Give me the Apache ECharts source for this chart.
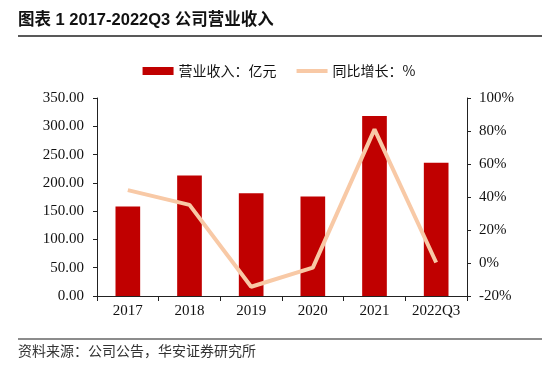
<!DOCTYPE html>
<html><head><meta charset="utf-8">
<script src="https://cdn.jsdelivr.net/npm/echarts@6/dist/echarts.min.js"></script>
<style>html,body{margin:0;padding:0;background:#fff}#c{width:558px;height:371px}</style>
</head><body><div id="c"></div>
<script>
const categories = ['2017','2018','2019','2020','2021','2022Q3'];
const revenue = [158.0, 213.0, 181.5, 176.0, 318.0, 235.5];
const growth = [44.2, 35.2, -14.4, -2.8, 81.0, 0.3];
const leftTicks = [0, 350, 50];
const rightTicks = [-20, 100, 20];
const titleText = '图表 1 2017-2022Q3 公司营业收入';
const sourceText = '资料来源：公司公告，华安证券研究所';
const revName = '营业收入：亿元';
const growName = '同比增长：%';

const chart = echarts.init(document.getElementById('c'), null, {renderer:'canvas'});
const serif = '"Liberation Serif", "Times New Roman", serif';
const cjk = '"Noto Sans CJK SC", sans-serif';
chart.setOption({
  animation:false,
  backgroundColor:'#fff',
  graphic:[
    {type:'text', left:18, top:12, style:{text:titleText, font:'bold 16.5px "Liberation Sans", "Noto Sans CJK SC", sans-serif', fill:'#111'}},
    {type:'line', shape:{x1:18,y1:36,x2:542,y2:36}, style:{stroke:'#222', lineWidth:1.5}},
    {type:'line', shape:{x1:18,y1:339,x2:542,y2:339}, style:{stroke:'#666', lineWidth:1.5}},
    {type:'text', left:18, top:344, style:{text:sourceText, font:'14px "Noto Sans CJK SC", sans-serif', fill:'#333'}}
  ],
  legend:{
    top:59, left:'center', itemGap:20, itemWidth:31, itemHeight:8,
    textStyle:{fontFamily:cjk, fontSize:14, color:'#111'},
    data:[
      {name:revName, icon:'rect'},
      {name:growName, icon:'path://M0,0 L31,0 L31,4 L0,4 Z'}
    ]
  },
  grid:{left:97, right:91, top:98, bottom:75},
  xAxis:{
    type:'category', data:categories,
    axisLine:{lineStyle:{color:'#222'}},
    axisTick:{show:true, interval:0, alignWithLabel:false, lineStyle:{color:'#222'}},
    axisLabel:{fontFamily:serif, fontSize:15, color:'#111', margin:8, interval:0, hideOverlap:false}
  },
  yAxis:[
    {type:'value', min:leftTicks[0], max:leftTicks[1], interval:leftTicks[2],
     axisLine:{show:true, lineStyle:{color:'#222'}}, axisTick:{show:true, inside:false, length:4, lineStyle:{color:'#222'}},
     splitLine:{show:false},
     axisLabel:{fontFamily:serif, fontSize:15, color:'#111', formatter:v=>v.toFixed(2), margin:13}},
    {type:'value', min:rightTicks[0], max:rightTicks[1], interval:rightTicks[2],
     axisLine:{show:true, lineStyle:{color:'#222'}}, axisTick:{show:true, length:4, lineStyle:{color:'#222'}},
     splitLine:{show:false},
     axisLabel:{fontFamily:serif, fontSize:15, color:'#111', formatter:v=>v+'%', margin:12}}
  ],
  series:[
    {name:revName, type:'bar', data:revenue, barWidth:'40%', itemStyle:{color:'#C00000'}},
    {name:growName, type:'line', yAxisIndex:1, data:growth, symbol:'none',
     lineStyle:{color:'#F8C9A6', width:4}, itemStyle:{color:'#F8C9A6'}}
  ]
});
</script></body></html>
